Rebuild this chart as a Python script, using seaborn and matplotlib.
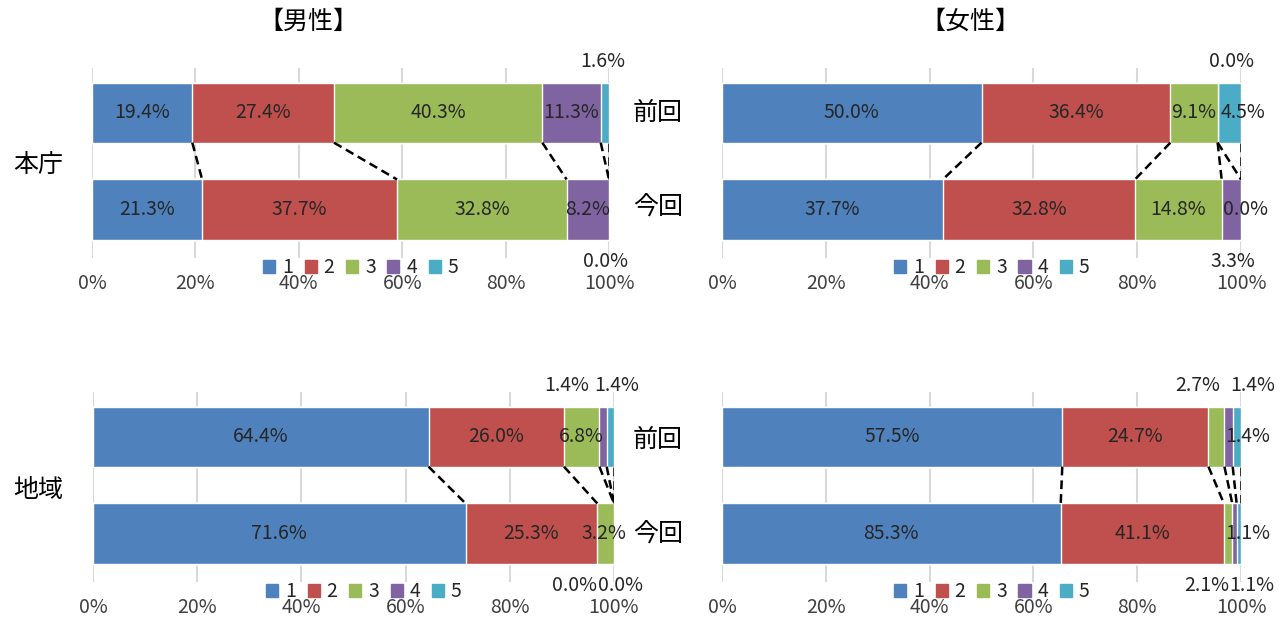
"""本庁・地域 前回/今回 100% stacked bars with series lines, 男性/女性."""

import matplotlib
matplotlib.use("Agg")
import matplotlib.pyplot as plt
from matplotlib.patches import Patch
import numpy as np
import pandas as pd
import seaborn as sns

W, H = 1285, 621

SERIES = ["1", "2", "3", "4", "5"]
COLORS = ["#4F81BD", "#C0504D", "#9BBB59", "#8064A2", "#4BACC6"]
ROWS = ["前回", "今回"]
XTICKS = [0, 20, 40, 60, 80, 100]

# values as labelled in the original (bars are normalised to 100%)
male_honcho_prev = [19.4, 27.4, 40.3, 11.3, 1.6]
male_honcho_now = [21.3, 37.7, 32.8, 8.2, 0.0]
female_honcho_prev = [50.0, 36.4, 9.1, 0.0, 4.5]
female_honcho_now = [37.7, 32.8, 14.8, 3.3, 0.0]
male_chiiki_prev = [64.4, 26.0, 6.8, 1.4, 1.4]
male_chiiki_now = [71.6, 25.3, 3.2, 0.0, 0.0]
female_chiiki_prev = [57.5, 24.7, 2.7, 1.4, 1.4]
female_chiiki_now = [85.3, 41.1, 2.1, 1.1, 1.1]

# label placement per segment: (where, nudge in px) -- in / up / down
I = ("in", 0)
PLACE_TL = [[I, I, I, I, ("up", -2)], [I, I, I, I, ("down", -4)]]
PLACE_TR = [[I, I, I, ("up", 14), ("in", 14)], [I, I, I, ("down", 1), ("in", 4)]]
PLACE_BL = [[I, I, I, ("up", -36), ("up", 6)], [I, I, ("in", -2), ("down", -40), ("down", 6)]]
PLACE_BR = [[I, I, ("up", -19), ("up", 24), ("in", 11)],
            [I, I, ("down", -21), ("down", 17), ("in", 9)]]

BAR_H = 0.62
FS = 14
FONT = ["Noto Sans CJK JP", "DejaVu Sans"]

sns.set_theme(style="white")
plt.rcParams["font.family"] = FONT


def px_rect(x0, y0, x1, y1):
    return [x0 / W, 1 - y1 / H, (x1 - x0) / W, (y1 - y0) / H]


def draw_panel(fig, rect, prev, now, place):
    ax = fig.add_axes(rect)
    df = pd.DataFrame([prev, now], index=ROWS, columns=SERIES)
    pct = df.div(df.sum(axis=1), axis=0) * 100
    cum = pct.cumsum(axis=1)

    # stacked via cumulative widths, widest first
    for i in range(len(SERIES) - 1, -1, -1):
        sns.barplot(x=cum.iloc[:, i].values, y=ROWS, orient="h", color=COLORS[i],
                    saturation=1, width=BAR_H, errorbar=None, ax=ax, zorder=2)

    # series lines between the two bars
    for i in range(len(SERIES)):
        ax.plot([cum.iloc[0, i], cum.iloc[1, i]], [BAR_H / 2, 1 - BAR_H / 2],
                color="black", lw=1.8, ls=(0, (3.5, 2)), zorder=3)

    # value labels
    for r in range(2):
        left = cum.iloc[r] - pct.iloc[r]
        for i in range(len(SERIES)):
            where, dx = place[r][i]
            xc = left.iloc[i] + pct.iloc[r, i] / 2
            if where == "in":
                xy, dy = (xc, r), 0
            elif where == "up":
                xy, dy = (xc, r - BAR_H / 2), 21
            else:
                xy, dy = (xc, r + BAR_H / 2), -22
            ax.annotate(f"{df.iloc[r, i]:.1f}%", xy=xy, xytext=(dx, dy),
                        textcoords="offset pixels", ha="center", va="center",
                        fontsize=FS, color="#262626", zorder=4)

    ax.set_xlim(0, 100)
    ax.set_ylim(1.5, -0.46)
    ax.set_xticks(XTICKS)
    ax.set_xticklabels([f"{t}%" for t in XTICKS], fontsize=FS, color="#404040")
    ax.tick_params(axis="x", length=0, pad=11)
    ax.set_yticks([])
    ax.set_xlabel("")
    ax.set_ylabel("")
    ax.xaxis.grid(True, color="#d9d9d9", lw=1.5, zorder=0)
    ax.set_axisbelow(True)
    for s in ax.spines.values():
        s.set_visible(False)

    handles = [Patch(color=c, label=s) for c, s in zip(COLORS, SERIES)]
    ax.legend(handles=handles, ncol=5, loc="center", bbox_to_anchor=(0.52, -0.052),
              frameon=False, fontsize=FS, handlelength=0.62, handleheight=0.62,
              handletextpad=0.35, columnspacing=0.6, borderpad=0, labelcolor="#262626")
    return ax


fig = plt.figure(figsize=(W / 100, H / 100), dpi=100)

draw_panel(fig, px_rect(92, 68, 609, 258), male_honcho_prev, male_honcho_now, PLACE_TL)
draw_panel(fig, px_rect(722, 68, 1241, 258), female_honcho_prev, female_honcho_now, PLACE_TR)
draw_panel(fig, px_rect(93, 392, 614, 582), male_chiiki_prev, male_chiiki_now, PLACE_BL)
draw_panel(fig, px_rect(722, 392, 1241, 582), female_chiiki_prev, female_chiiki_now, PLACE_BR)


def ftext(x, y, s, size=18):
    fig.text(x / W, 1 - y / H, s, ha="center", va="center", fontsize=size, color="black")


ftext(308, 22, "【男性】")
ftext(970, 22, "【女性】")
ftext(38, 165, "本庁")
ftext(38, 490, "地域")
for y in (113, 440):
    ftext(658, y, "前回")
for y in (208, 535):
    ftext(658, y, "今回")

fig.savefig("out.png", dpi=100)
